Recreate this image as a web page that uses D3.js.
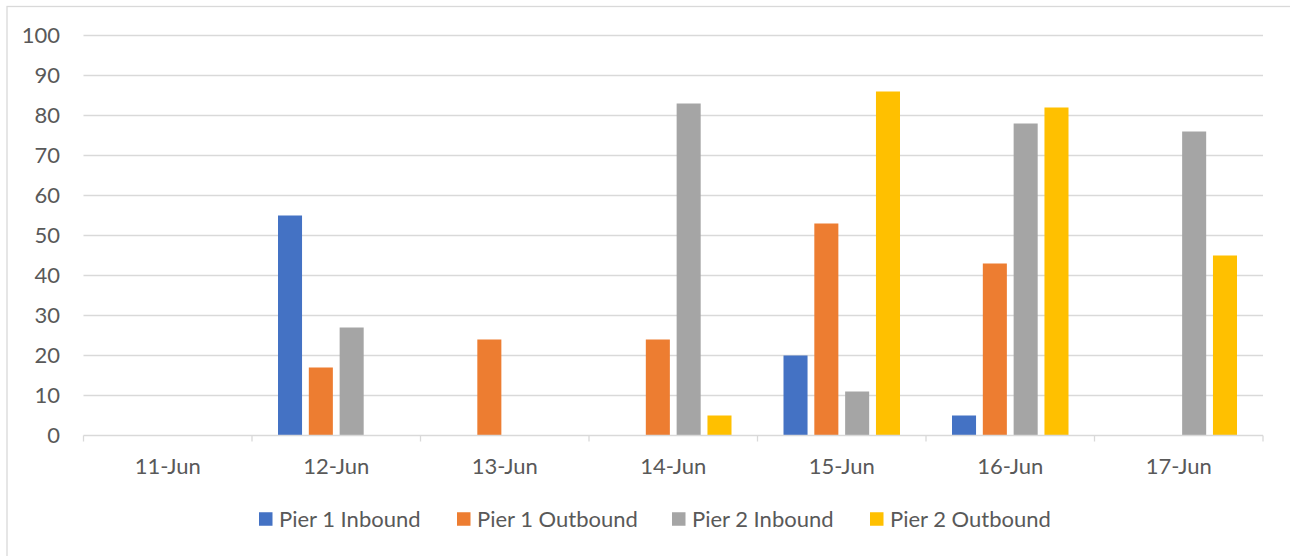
<!DOCTYPE html>
<html>
<head>
<meta charset="utf-8">
<script src="https://cdn.jsdelivr.net/npm/d3@7"></script>
<style>
  html, body { margin: 0; padding: 0; background: #ffffff; }
  svg { display: block; }
  text { font-family: Lato, "Liberation Sans", sans-serif; fill: #595959; }
</style>
</head>
<body>
<svg id="chart" width="1290" height="556"></svg>
<script>
// Daily pier traffic, four series per day
const categories = ["11-Jun", "12-Jun", "13-Jun", "14-Jun", "15-Jun", "16-Jun", "17-Jun"];
const seriesNames = ["Pier 1 Inbound", "Pier 1 Outbound", "Pier 2 Inbound", "Pier 2 Outbound"];
const pier1Inbound  = [0, 55, 0, 0, 20, 5, 0];
const pier1Outbound = [0, 17, 24, 24, 53, 43, 0];
const pier2Inbound  = [0, 27, 0, 83, 11, 78, 76];
const pier2Outbound = [0, 0, 0, 5, 86, 82, 45];
const yTicks = [0, 10, 20, 30, 40, 50, 60, 70, 80, 90, 100];
const colors = ["#4472C4", "#ED7D31", "#A5A5A5", "#FFC000"];

const seriesValues = [pier1Inbound, pier1Outbound, pier2Inbound, pier2Outbound];

const svg = d3.select("#chart");
const plot = { left: 83.5, right: 1263, top: 35.5, bottom: 435.5 };
const fontSize = 22;

// Chart frame
svg.append("rect")
  .attr("x", 7).attr("y", 6.5)
  .attr("width", 1300).attr("height", 600)
  .attr("fill", "none").attr("stroke", "#D9D9D9").attr("stroke-width", 1.3);

const x = d3.scaleBand().domain(categories).range([plot.left, plot.right]).padding(0);
const inner = d3.scaleBand().domain(d3.range(seriesNames.length))
  .range([26, x.bandwidth() - 26]).paddingInner(0.22).paddingOuter(0);
const y = d3.scaleLinear().domain([0, 100]).range([plot.bottom, plot.top]);

// Horizontal gridlines
svg.append("g").selectAll("line").data(yTicks.filter(t => t > 0)).join("line")
  .attr("x1", plot.left).attr("x2", plot.right)
  .attr("y1", d => y(d)).attr("y2", d => y(d))
  .attr("stroke", "#D9D9D9").attr("stroke-width", 1.3);

// Y axis labels
const yAxis = d3.axisLeft(y).tickValues(yTicks).tickSize(0).tickPadding(0);
const gy = svg.append("g").attr("transform", `translate(60,0)`).call(yAxis);
gy.select(".domain").remove();
gy.selectAll("text")
  .attr("font-size", fontSize).attr("fill", "#595959")
  .style("font-family", "Lato, 'Liberation Sans', sans-serif");

// Bars
const rows = categories.map((c, i) => ({ cat: c, vals: seriesValues.map(s => s[i]) }));
const groups = svg.append("g").selectAll("g").data(rows).join("g")
  .attr("transform", d => `translate(${x(d.cat)},0)`);
groups.selectAll("rect")
  .data(d => d.vals.map((v, k) => ({ v, k })).filter(e => e.v > 0))
  .join("rect")
  .attr("x", d => inner(d.k))
  .attr("width", inner.bandwidth())
  .attr("y", d => y(d.v))
  .attr("height", d => y(0) - y(d.v))
  .attr("fill", d => colors[d.k]);

// Category axis with ticks between days
const xAxis = d3.axisBottom(x).tickSize(0).tickPadding(0);
const gx = svg.append("g").attr("transform", `translate(0,${plot.bottom})`).call(xAxis);
gx.select(".domain").remove();
gx.selectAll(".tick text")
  .attr("y", 30.5).attr("dy", "0.35em")
  .attr("font-size", fontSize).attr("fill", "#595959")
  .style("font-family", "Lato, 'Liberation Sans', sans-serif");
gx.append("line")
  .attr("x1", plot.left).attr("x2", plot.right)
  .attr("y1", 0).attr("y2", 0)
  .attr("stroke", "#D9D9D9").attr("stroke-width", 1.3);
const bounds = categories.map(c => x(c)).concat([x(categories[categories.length - 1]) + x.bandwidth()]);
gx.selectAll("line.sep").data(bounds).join("line").attr("class", "sep")
  .attr("x1", d => d).attr("x2", d => d)
  .attr("y1", 0).attr("y2", 6)
  .attr("stroke", "#D9D9D9").attr("stroke-width", 1.3);

// Legend
const legendX = [259, 457, 672, 870];
const legend = svg.append("g").selectAll("g").data(seriesNames).join("g")
  .attr("transform", (d, i) => `translate(${legendX[i]},519)`);
legend.append("rect")
  .attr("x", 0).attr("y", -6.75).attr("width", 13.5).attr("height", 13.5)
  .attr("fill", (d, i) => colors[i]);
legend.append("text")
  .attr("x", 20).attr("dy", "0.35em")
  .attr("font-size", fontSize)
  .text(d => d);
</script>
</body>
</html>
